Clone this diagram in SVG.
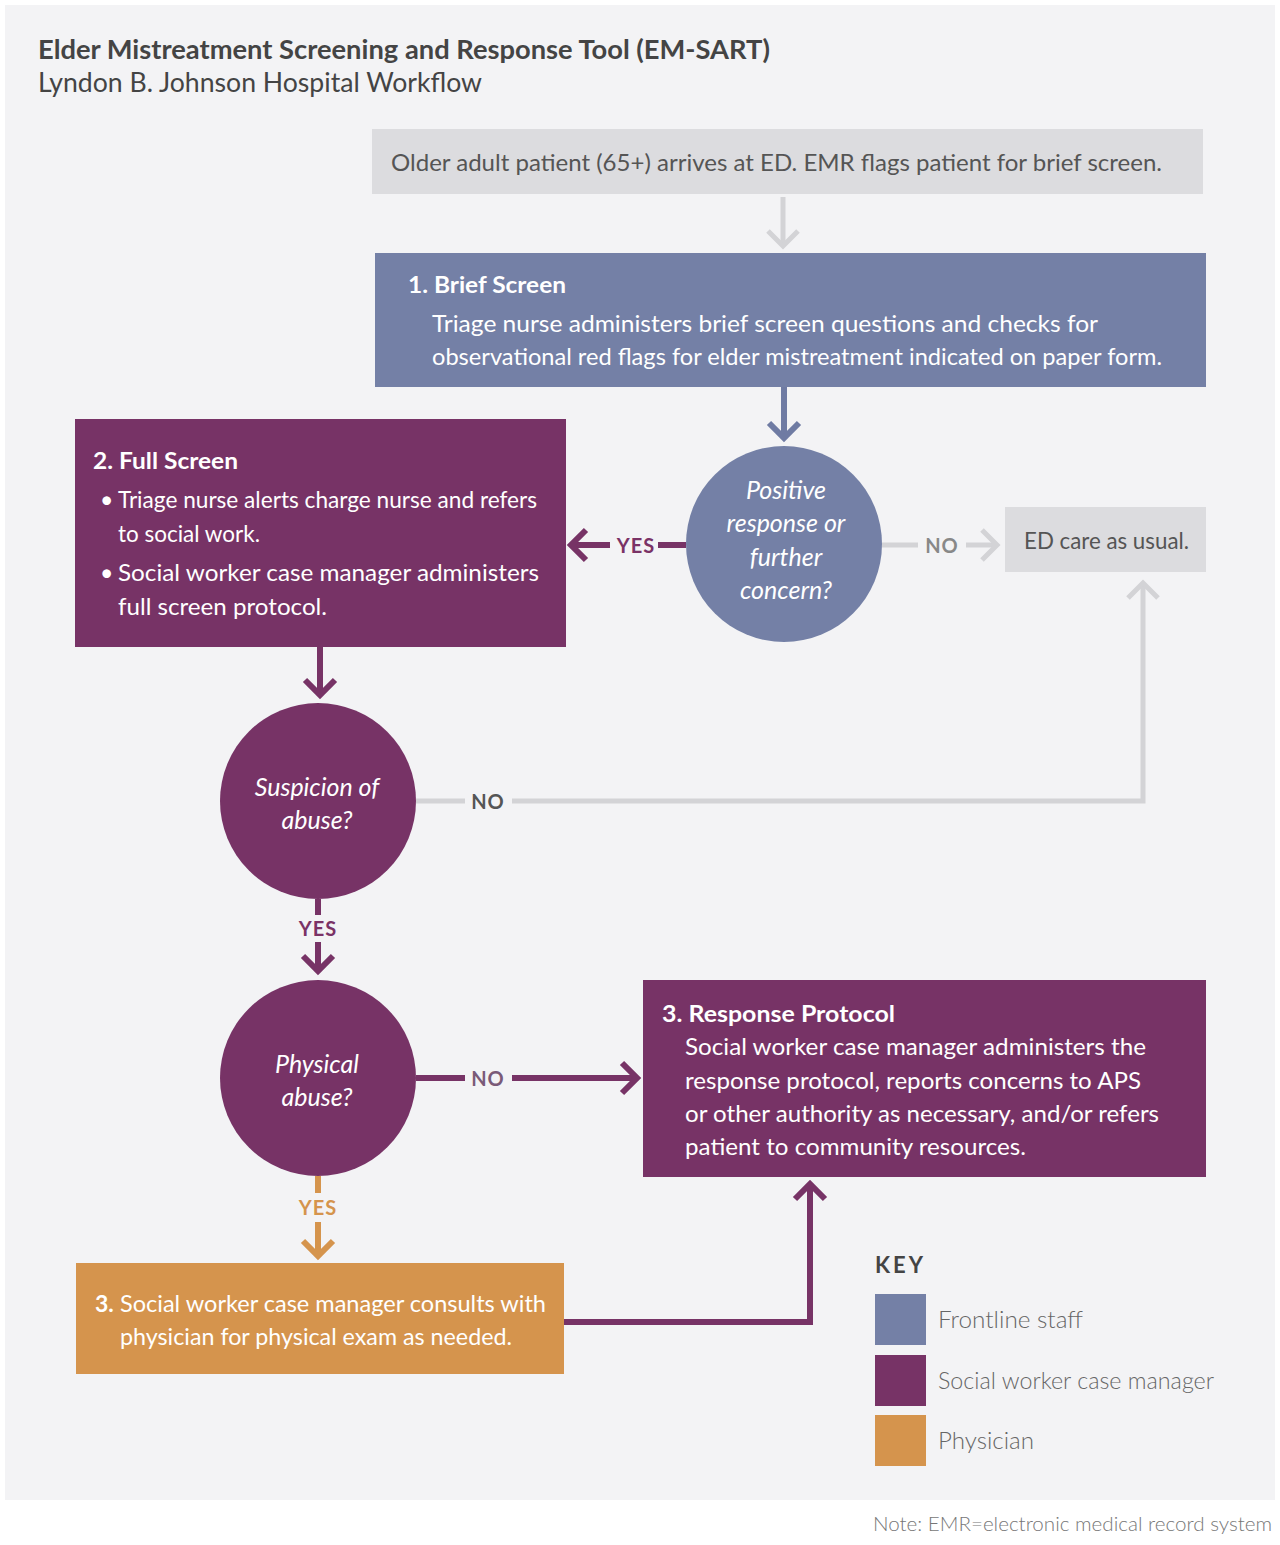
<svg xmlns="http://www.w3.org/2000/svg" width="1280" height="1545" viewBox="0 0 1280 1545">
<style>
text{font-family:Lato,"Open Sans","Liberation Sans",sans-serif}
.t{font-size:23px;fill:#fff}
.b{font-weight:bold}
.g{font-size:23px;fill:#555}
.q{font-size:25px;fill:#fff;font-style:italic;text-anchor:middle}
.lbl{font-size:20px;font-weight:bold;letter-spacing:1px;text-anchor:middle}
.key{font-size:23px;fill:#666;font-weight:300}
.cp{fill:none;stroke:#773366;stroke-width:6}
.cb{fill:none;stroke:#6f7ba3;stroke-width:6}
.cg{fill:none;stroke:#d3d3d6;stroke-width:5}
.co{fill:none;stroke:#d5944d;stroke-width:6}
</style>
<defs>
<marker id="ap" markerUnits="userSpaceOnUse" markerWidth="40" markerHeight="40" viewBox="-20 -20 40 40" refX="0" refY="0" orient="auto"><path d="M-15,-15 L0,0 L-15,15" fill="none" stroke="#773366" stroke-width="6"/></marker>
<marker id="ab" markerUnits="userSpaceOnUse" markerWidth="40" markerHeight="40" viewBox="-20 -20 40 40" refX="0" refY="0" orient="auto"><path d="M-15,-15 L0,0 L-15,15" fill="none" stroke="#6f7ba3" stroke-width="6"/></marker>
<marker id="ag" markerUnits="userSpaceOnUse" markerWidth="40" markerHeight="40" viewBox="-20 -20 40 40" refX="0" refY="0" orient="auto"><path d="M-15,-15 L0,0 L-15,15" fill="none" stroke="#d3d3d6" stroke-width="5"/></marker>
<marker id="ao" markerUnits="userSpaceOnUse" markerWidth="40" markerHeight="40" viewBox="-20 -20 40 40" refX="0" refY="0" orient="auto"><path d="M-15,-15 L0,0 L-15,15" fill="none" stroke="#d5944d" stroke-width="6"/></marker>
</defs>
<rect x="0" y="0" width="1280" height="1545" fill="#fff"/>
<rect x="5" y="5" width="1270" height="1495" fill="#f3f3f5"/>
<g id="title">
<text x="38" y="59" font-size="26" font-weight="bold" fill="#444" textLength="732" lengthAdjust="spacingAndGlyphs">Elder Mistreatment Screening and Response Tool (EM-SART)</text>
<text x="38" y="92" font-size="26" fill="#444" textLength="444" lengthAdjust="spacingAndGlyphs">Lyndon B. Johnson Hospital Workflow</text>
</g>
<g id="connectors">
<line class="cg" x1="783" y1="197" x2="783" y2="246" marker-end="url(#ag)"/>
<line class="cb" x1="784" y1="387" x2="784" y2="438" marker-end="url(#ab)"/>
<line class="cp" x1="686" y1="545" x2="658" y2="545"/>
<line class="cp" x1="610" y1="545" x2="571" y2="545" marker-end="url(#ap)"/>
<text class="lbl" x="636" y="553" fill="#7a3266">YES</text>
<line class="cg" x1="882" y1="545" x2="918" y2="545"/>
<line class="cg" x1="966" y1="545" x2="997" y2="545" marker-end="url(#ag)"/>
<text class="lbl" x="942" y="553" fill="#888">NO</text>
<line class="cp" x1="320" y1="647" x2="320" y2="695" marker-end="url(#ap)"/>
<line class="cg" x1="416" y1="801" x2="465" y2="801"/>
<polyline class="cg" points="512,801 1143,801 1143,583" marker-end="url(#ag)"/>
<text class="lbl" x="488" y="809" fill="#555">NO</text>
<line class="cp" x1="318" y1="899" x2="318" y2="915"/>
<line class="cp" x1="318" y1="942" x2="318" y2="971" marker-end="url(#ap)"/>
<text class="lbl" x="318" y="936" fill="#7a3266">YES</text>
<line class="cp" x1="416" y1="1078" x2="465" y2="1078"/>
<line class="cp" x1="512" y1="1078" x2="637" y2="1078" marker-end="url(#ap)"/>
<text class="lbl" x="488" y="1086" fill="#7a5a78">NO</text>
<line class="co" x1="318" y1="1176" x2="318" y2="1193"/>
<line class="co" x1="318" y1="1222" x2="318" y2="1256" marker-end="url(#ao)"/>
<text class="lbl" x="318" y="1215" fill="#d5944d">YES</text>
<polyline class="cp" points="564,1322 810,1322 810,1184" marker-end="url(#ap)"/>
</g>
<g id="arrive">
<rect x="372" y="129" width="831" height="65" fill="#dcdcdf"/>
<text class="g" x="391" y="171" textLength="771" lengthAdjust="spacingAndGlyphs">Older adult patient (65+) arrives at ED. EMR flags patient for brief screen.</text>
</g>
<g id="brief">
<rect x="375" y="253" width="831" height="134" fill="#7480a6"/>
<text class="t b" x="408" y="293" textLength="158" lengthAdjust="spacingAndGlyphs">1. Brief Screen</text>
<text class="t" x="432" y="332" textLength="666" lengthAdjust="spacingAndGlyphs">Triage nurse administers brief screen questions and checks for</text>
<text class="t" x="432" y="365" textLength="730" lengthAdjust="spacingAndGlyphs">observational red flags for elder mistreatment indicated on paper form.</text>
</g>
<g id="positive">
<circle cx="784" cy="544" r="98" fill="#7480a6"/>
<text class="q" x="786" y="499">Positive</text>
<text class="q" x="786" y="532">response or</text>
<text class="q" x="786" y="566">further</text>
<text class="q" x="786" y="599">concern?</text>
</g>
<g id="edcare">
<rect x="1005" y="507" width="201" height="65" fill="#dcdcdf"/>
<text class="g" x="1024" y="549" textLength="165" lengthAdjust="spacingAndGlyphs">ED care as usual.</text>
</g>
<g id="full">
<rect x="75" y="419" width="491" height="228" fill="#773366"/>
<text class="t b" x="93" y="469" textLength="145" lengthAdjust="spacingAndGlyphs">2. Full Screen</text>
<text class="t" x="100" y="508">•</text>
<text class="t" x="118" y="508" textLength="419" lengthAdjust="spacingAndGlyphs">Triage nurse alerts charge nurse and refers</text>
<text class="t" x="118" y="542" textLength="142" lengthAdjust="spacingAndGlyphs">to social work.</text>
<text class="t" x="100" y="581">•</text>
<text class="t" x="118" y="581" textLength="421" lengthAdjust="spacingAndGlyphs">Social worker case manager administers</text>
<text class="t" x="118" y="615" textLength="209" lengthAdjust="spacingAndGlyphs">full screen protocol.</text>
</g>
<g id="suspicion">
<circle cx="318" cy="801" r="98" fill="#773366"/>
<text class="q" x="317" y="796">Suspicion of</text>
<text class="q" x="317" y="829">abuse?</text>
</g>
<g id="physical">
<circle cx="318" cy="1078" r="98" fill="#773366"/>
<text class="q" x="317" y="1073">Physical</text>
<text class="q" x="317" y="1106">abuse?</text>
</g>
<g id="response">
<rect x="643" y="980" width="563" height="197" fill="#773366"/>
<text class="t b" x="662" y="1022" textLength="233" lengthAdjust="spacingAndGlyphs">3. Response Protocol</text>
<text class="t" x="685" y="1055" textLength="461" lengthAdjust="spacingAndGlyphs">Social worker case manager administers the</text>
<text class="t" x="685" y="1089" textLength="456" lengthAdjust="spacingAndGlyphs">response protocol, reports concerns to APS</text>
<text class="t" x="685" y="1122" textLength="474" lengthAdjust="spacingAndGlyphs">or other authority as necessary, and/or refers</text>
<text class="t" x="685" y="1155" textLength="341" lengthAdjust="spacingAndGlyphs">patient to community resources.</text>
</g>
<g id="physician">
<rect x="76" y="1263" width="488" height="111" fill="#d5944d"/>
<text class="t b" x="95" y="1312">3.</text>
<text class="t" x="120" y="1312" textLength="426" lengthAdjust="spacingAndGlyphs">Social worker case manager consults with</text>
<text class="t" x="120" y="1345" textLength="392" lengthAdjust="spacingAndGlyphs">physician for physical exam as needed.</text>
</g>
<g id="legend">
<text x="875" y="1273" font-size="22" font-weight="bold" letter-spacing="3" fill="#444">KEY</text>
<rect x="875" y="1294" width="51" height="51" fill="#7480a6"/>
<rect x="875" y="1355" width="51" height="51" fill="#773366"/>
<rect x="875" y="1415" width="51" height="51" fill="#d5944d"/>
<text class="key" x="938" y="1328" textLength="145" lengthAdjust="spacingAndGlyphs">Frontline staff</text>
<text class="key" x="938" y="1389" textLength="276" lengthAdjust="spacingAndGlyphs">Social worker case manager</text>
<text class="key" x="938" y="1449" textLength="96" lengthAdjust="spacingAndGlyphs">Physician</text>
</g>
<text x="873" y="1531" font-size="20" font-weight="300" fill="#777" textLength="399" lengthAdjust="spacingAndGlyphs">Note: EMR=electronic medical record system</text>
</svg>
